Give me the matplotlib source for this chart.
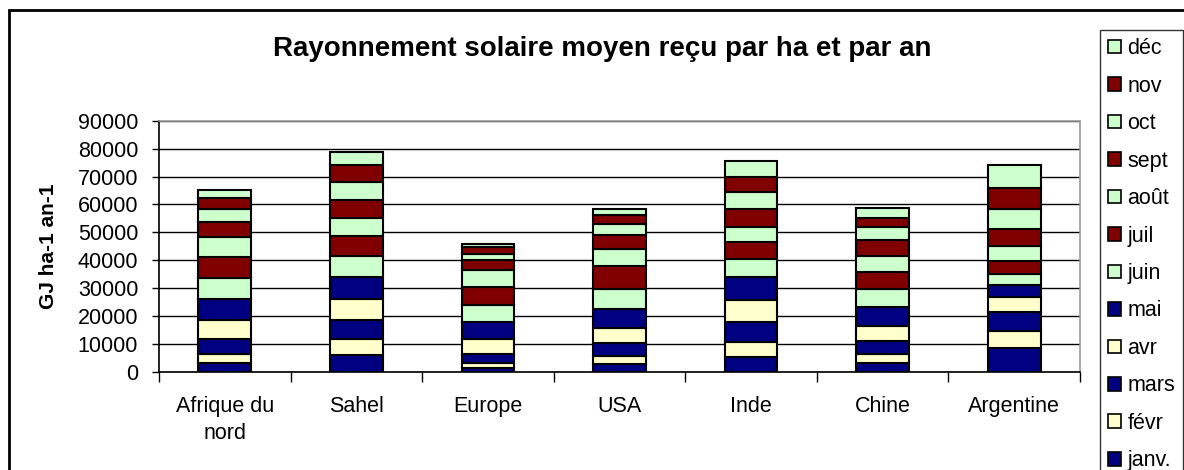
import numpy as np
import matplotlib
matplotlib.use('Agg')
import matplotlib.pyplot as plt
from matplotlib.patches import Rectangle

plt.rcParams['font.family'] = ['Liberation Sans', 'DejaVu Sans']

regions = ['Afrique du\nnord', 'Sahel', 'Europe', 'USA', 'Inde', 'Chine', 'Argentine']
months = ['janv.', 'févr', 'mars', 'avr', 'mai', 'juin', 'juil', 'août',
          'sept', 'oct', 'nov', 'déc']

# monthly values per region (GJ ha-1)
afrique = [3300, 3100, 5500, 6700, 7500, 7700, 7400, 7100, 5500, 4500, 4000, 2900]
sahel = [6100, 5800, 6700, 7700, 7700, 7400, 7400, 6500, 6200, 6500, 6200, 4500]
europe = [1400, 1900, 3200, 5200, 6200, 6000, 6500, 6100, 3500, 2400, 2300, 1300]
usa = [2700, 3200, 4600, 5200, 6800, 7300, 8000, 6100, 5200, 4000, 3200, 2200]
inde = [5400, 5200, 7400, 7900, 8100, 6500, 6000, 5500, 6500, 6000, 5500, 5500]
chine = [3200, 3200, 4800, 5200, 6700, 6700, 5900, 6000, 5500, 4600, 3500, 3300]
argentine = [8600, 6100, 6700, 5600, 4300, 3900, 4600, 5400, 6000, 7300, 7400, 8200]

navy = '#000080'
cream = '#FFFFCC'
mint = '#CCFFCC'
maroon = '#800000'
month_colors = [navy, cream, navy, cream, navy, mint, maroon, mint,
                maroon, mint, maroon, mint]

data = np.array([afrique, sahel, europe, usa, inde, chine, argentine])

fig = plt.figure(figsize=(11.84, 4.70), dpi=100)
ax = fig.add_axes([159 / 1184, 1 - 372 / 470, (1080 - 159) / 1184, (372 - 120.7) / 470])

x = np.arange(len(regions))
bottom = np.zeros(len(regions))
handles = []
for i, m in enumerate(months):
    b = ax.bar(x, data[:, i], 0.40, bottom=bottom, color=month_colors[i],
               edgecolor='black', linewidth=1.5, label=m, zorder=3)
    handles.append(b)
    bottom += data[:, i]

ax.set_xlim(-0.5, len(regions) - 0.5)
ax.set_ylim(0, 90000)
ax.set_yticks(np.arange(0, 90001, 10000))
ax.set_yticklabels([str(v) for v in range(0, 90001, 10000)], fontsize=15.5)
ax.yaxis.grid(True, color='black', linewidth=1, zorder=0)
ax.set_xticks(x)
ax.set_xticklabels(regions, fontsize=15.5, linespacing=1.4)
ax.set_xticks(np.arange(-0.5, len(regions)), minor=True)
ax.tick_params(axis='x', which='major', length=0, pad=17)
ax.tick_params(axis='x', which='minor', length=7, width=1, direction='out')
ax.tick_params(axis='y', length=5, width=1, direction='out', pad=10)
for side in ['top', 'right']:
    ax.spines[side].set_color('#999999')
    ax.spines[side].set_linewidth(1.2)
for side in ['left', 'bottom']:
    ax.spines[side].set_color('black')
    ax.spines[side].set_linewidth(1.2)

ax.set_ylabel('GJ ha-1 an-1', fontsize=15, fontweight='bold', labelpad=14)
fig.text(602 / 1184, 1 - 49 / 470, 'Rayonnement solaire moyen reçu par ha et par an',
         fontsize=20, fontweight='bold', ha='center', va='center')

leg = fig.legend(handles[::-1], months[::-1], loc='upper left',
                 bbox_to_anchor=(1100 / 1184, 1 - 30 / 470), fontsize=15.5,
                 frameon=True, fancybox=False, edgecolor='black',
                 handlelength=0.6, handleheight=0.6, handletextpad=0.3,
                 labelspacing=0.765, borderaxespad=0, borderpad=0.38)
leg.get_frame().set_linewidth(1.0)
for p in leg.get_patches():
    p.set_linewidth(1.2)

# outer chart border
fig.patches.append(Rectangle((9 / 1184, -0.05), 1.05, 1 - 10 / 470 + 0.05,
                             transform=fig.transFigure, fill=False,
                             edgecolor='black', linewidth=2))

fig.savefig('out.png', dpi=100)
